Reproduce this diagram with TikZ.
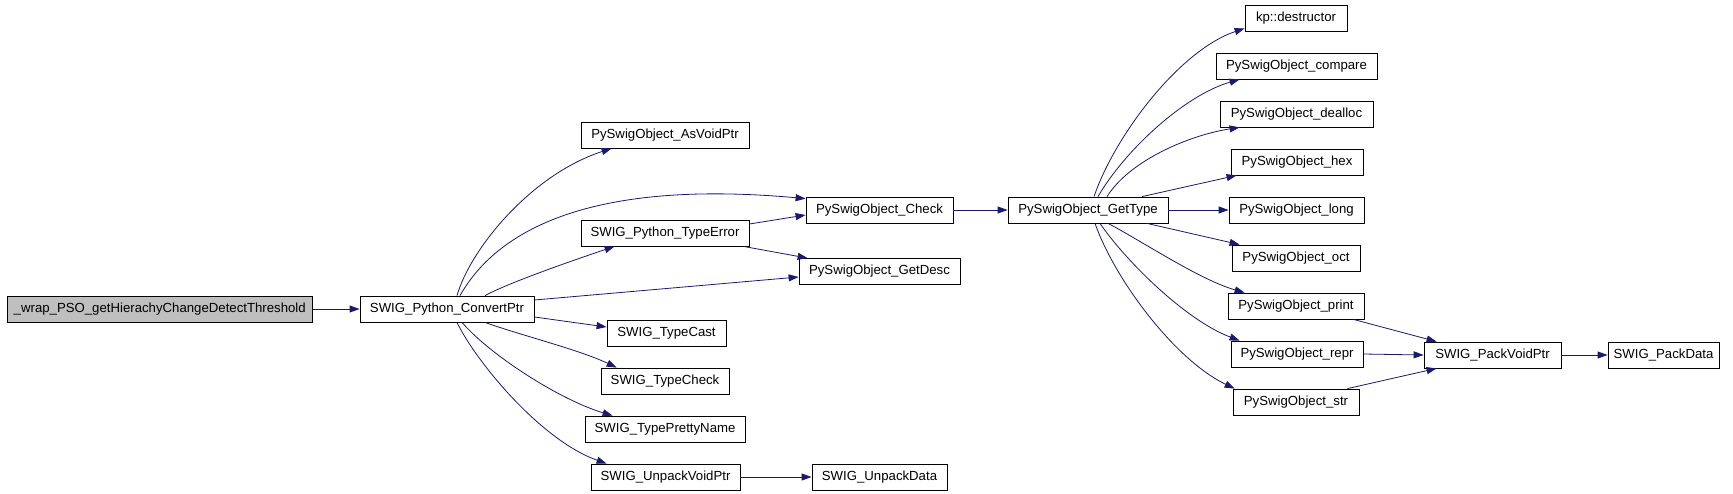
\documentclass[tikz,border=0pt]{standalone}
\usepackage{fontspec}
\setmainfont{Liberation Sans}
\usetikzlibrary{arrows.meta}
\definecolor{edgeblue}{HTML}{191970}
\definecolor{rootgray}{HTML}{BFBFBF}
\begin{document}
\begin{tikzpicture}[x=1pt,y=-1pt,
  fn/.style={draw=black,line width=0.8pt,inner sep=0pt,minimum height=26pt,
    font=\fontsize{13.2}{15}\selectfont,fill=white},
  call/.style={draw=edgeblue,line width=0.8pt,-{Triangle[length=10pt,width=7pt]}}]
\useasboundingbox (0,0) rectangle (1733,493);
% nodes
\node[fn,fill=rootgray,minimum width=305.5pt] (wrap) at (159.75,309) {\_wrap\_PSO\_getHierachyChangeDetectThreshold};
\node[fn,minimum width=174pt] (cp) at (447,309) {SWIG\_Python\_ConvertPtr};
\node[fn,minimum width=168pt] (asv) at (665,135) {PySwigObject\_AsVoidPtr};
\node[fn,minimum width=168pt] (te) at (665,233) {SWIG\_Python\_TypeError};
\node[fn,minimum width=147pt] (chk) at (879.5,210) {PySwigObject\_Check};
\node[fn,minimum width=161pt] (gd) at (879.5,271.5) {PySwigObject\_GetDesc};
\node[fn,minimum width=119pt] (tc) at (666.5,333.5) {SWIG\_TypeCast};
\node[fn,minimum width=128pt] (tch) at (665,381) {SWIG\_TypeCheck};
\node[fn,minimum width=160pt] (tpn) at (665,429) {SWIG\_TypePrettyName};
\node[fn,minimum width=149pt] (uvp) at (665.5,477) {SWIG\_UnpackVoidPtr};
\node[fn,minimum width=135pt] (ud) at (879.5,477) {SWIG\_UnpackData};
\node[fn,minimum width=160pt] (gt) at (1088,210) {PySwigObject\_GetType};
\node[fn,minimum width=102pt] (kp) at (1296,18) {kp::destructor};
\node[fn,minimum width=161pt] (cmp) at (1296.5,66) {PySwigObject\_compare};
\node[fn,minimum width=153pt] (dea) at (1296.5,114) {PySwigObject\_dealloc};
\node[fn,minimum width=132pt] (hex) at (1297,162) {PySwigObject\_hex};
\node[fn,minimum width=135pt] (lng) at (1296.5,210) {PySwigObject\_long};
\node[fn,minimum width=128pt] (oct) at (1296,258) {PySwigObject\_oct};
\node[fn,minimum width=136pt] (prt) at (1296,306) {PySwigObject\_print};
\node[fn,minimum width=132pt] (rep) at (1297,354) {PySwigObject\_repr};
\node[fn,minimum width=126pt] (str) at (1296,402) {PySwigObject\_str};
\node[fn,minimum width=137pt] (pvp) at (1492.5,355) {SWIG\_PackVoidPtr};
\node[fn,minimum width=111pt] (pd) at (1663.5,355) {SWIG\_PackData};
% edges
\draw[call] (wrap.east) -- (cp.west);
\draw[call] ([xshift=10pt]cp.north) .. controls (470,250) and (530,175) .. ([xshift=31pt]asv.south west);
\draw[call] ([xshift=13pt]cp.north) .. controls (500,225) and (600,180) .. ([yshift=-2pt]chk.north west);
\draw[call] ([xshift=38pt]cp.north) .. controls (510,282) and (580,258) .. ([xshift=34pt]te.south west);
\draw[call] ([yshift=9pt]cp.east) -- ([yshift=-5.5pt]gd.west);
\draw[call] ([yshift=-8pt]cp.east) -- ([yshift=6.5pt]tc.west);
\draw[call] ([xshift=38pt]cp.south) .. controls (520,335) and (580,350) .. ([xshift=16pt]tch.north west);
\draw[call] ([xshift=15pt]cp.south) .. controls (490,355) and (560,400) .. ([xshift=28pt]tpn.north west);
\draw[call] ([xshift=10pt]cp.south) .. controls (475,360) and (540,440) .. ([xshift=16pt]uvp.north west);
\draw[call] ([yshift=9pt]te.east) -- ([yshift=-5pt]chk.west);
\draw[call] ([xshift=-6pt]te.south east) -- ([xshift=9pt]gd.north west);
\draw[call] (chk.east) -- (gt.west);
\draw[call] (uvp.east) -- (ud.west);
\draw[call] ([xshift=6pt]gt.north) .. controls (1115,135) and (1180,50) .. ([yshift=3pt]kp.south west);
\draw[call] ([xshift=10pt]gt.north) .. controls (1125,150) and (1185,95) .. ([xshift=24pt]cmp.south west);
\draw[call] ([xshift=19pt]gt.north) .. controls (1130,160) and (1190,135) .. ([xshift=20pt]dea.south west);
\draw[call] ([xshift=54pt]gt.north) -- ([xshift=6pt]hex.south west);
\draw[call] (gt.east) -- (lng.west);
\draw[call] ([xshift=59pt]gt.south) -- ([xshift=8pt]oct.north west);
\draw[call] ([xshift=20pt]gt.south) .. controls (1140,240) and (1200,280) .. ([xshift=17pt]prt.north west);
\draw[call] ([xshift=12pt]gt.south) .. controls (1125,260) and (1185,320) .. ([xshift=9pt]rep.north west);
\draw[call] ([xshift=7pt]gt.south) .. controls (1115,280) and (1175,360) .. ([xshift=2pt]str.north west);
\draw[call] ([xshift=-11pt]prt.south east) -- ([xshift=13pt]pvp.north west);
\draw[call] (rep.east) -- (pvp.west);
\draw[call] ([xshift=-12pt]str.north east) -- ([xshift=13pt]pvp.south west);
\draw[call] (pvp.east) -- (pd.west);
\end{tikzpicture}
\end{document}
